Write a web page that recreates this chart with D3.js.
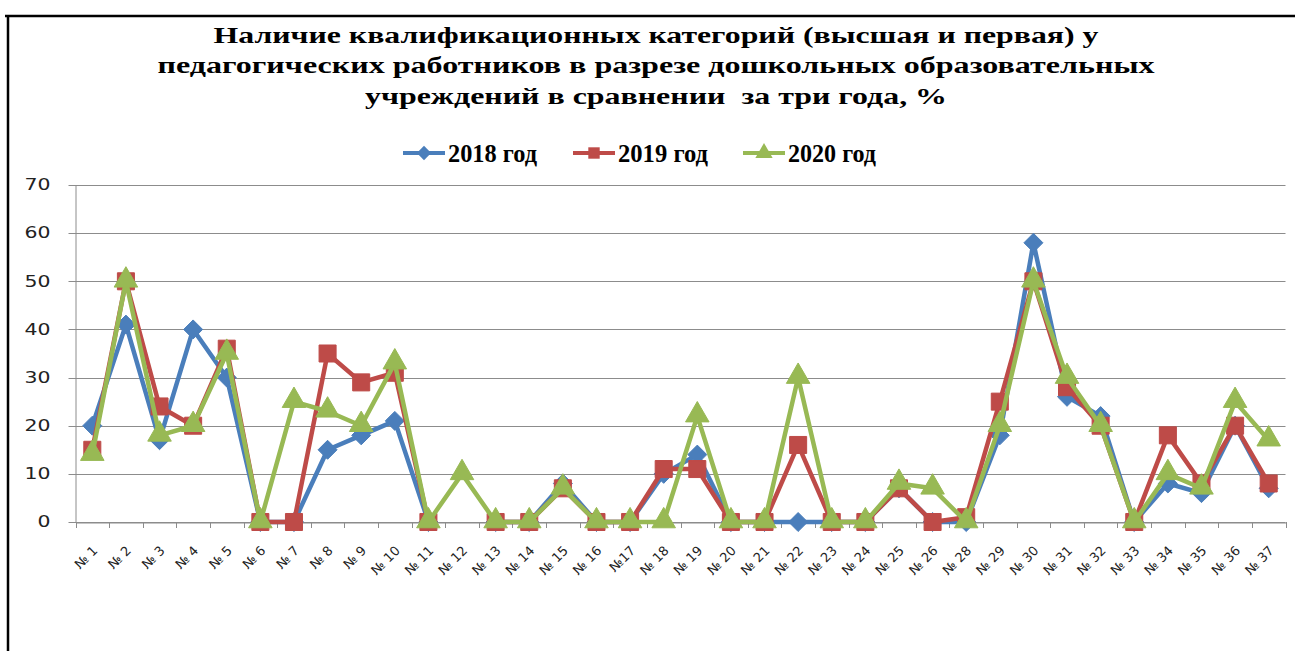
<!DOCTYPE html>
<html><head><meta charset="utf-8">
<script src="https://cdn.jsdelivr.net/npm/d3@7"></script>
<style>html,body{margin:0;padding:0;background:#fff;overflow:hidden}</style>
</head><body>
<svg id="chart" width="1295" height="651"></svg>
<script>
const titleLines = [
  "Наличие квалификационных категорий (высшая и первая) у",
  "педагогических работников в разрезе дошкольных образовательных",
  "учреждений в сравнении  за три года, %"
];
const seriesNames = ["2018 год", "2019 год", "2020 год"];
const categories = ["№ 1","№ 2","№ 3","№ 4","№ 5","№ 6","№ 7","№ 8","№ 9","№ 10","№ 11","№ 12","№ 13","№ 14","№ 15","№ 16","№17","№ 18","№ 19","№ 20","№ 21","№ 22","№ 23","№ 24","№ 25","№ 26","№ 28","№ 29","№ 30","№ 31","№ 32","№ 33","№ 34","№ 35","№ 36","№ 37"];
const values2018 = [20,41,17,40,30,0,0,15,18,21,0,null,0,0,8,0,0,10,14,0,0,0,0,0,7,0,0,18,58,26,22,0,8,6,20,7];
const values2019 = [15,50,24,20,36,0,0,35,29,31,0,null,0,0,7,0,0,11,11,0,0,16,0,0,7,0,1,25,50,28,20,0,18,8,20,8];
const values2020 = [14,50,18,20,35,0,25,23,20,33,0,10,0,0,7,0,0,0,22,0,0,30,0,0,8,7,0,20,50,30,20,0,10,7,25,17];
const yTicks = [0,10,20,30,40,50,60,70];

(function(){
const colors = ["#4A7EBB", "#BE4B48", "#98B954"];
const markers = [d3.symbolDiamond2, d3.symbolSquare, d3.symbolTriangle];
const allSeries = [values2018, values2019, values2020];

const svg = d3.select("#chart");

// frame
svg.append("line").attr("x1",5).attr("x2",1295).attr("y1",16).attr("y2",16).attr("stroke","#000").attr("stroke-width",2.5);
svg.append("line").attr("x1",8).attr("x2",8).attr("y1",15).attr("y2",651).attr("stroke","#000").attr("stroke-width",2.5);

// title
const titleWidths = [885, 997, 582];
const titleBase = [43, 73, 104];
titleLines.forEach((t,i)=>{
  svg.append("text").attr("x",656).attr("y",titleBase[i]).attr("text-anchor","middle")
    .attr("xml:space","preserve")
    .attr("font-family","'Liberation Serif','Times New Roman',serif").attr("font-weight","bold")
    .attr("font-size",23).attr("textLength",titleWidths[i]).attr("lengthAdjust","spacingAndGlyphs")
    .text(t);
});

// scales
const pLeft = 75.5, pRight = 1285.5, pTop = 185, pBottom = 522;
const x = d3.scaleBand().domain(categories).range([pLeft, pRight]);
const y = d3.scaleLinear().domain([0,70]).range([pBottom, pTop]);

// grid
svg.append("g").selectAll("line").data(yTicks).join("line")
  .attr("x1",pLeft-7).attr("x2",pRight).attr("y1",d=>Math.round(y(d))+0.5).attr("y2",d=>Math.round(y(d))+0.5)
  .attr("stroke","#8c8c8c").attr("stroke-width",1);

// y axis
const yAxis = d3.axisLeft(y).tickValues(yTicks).tickSize(0).tickPadding(0);
const gy = svg.append("g").attr("transform",`translate(${pLeft},0)`).call(yAxis);
gy.select(".domain").attr("stroke","#8c8c8c");
gy.selectAll("text").attr("x",-25).attr("font-family","'DejaVu Sans',sans-serif").attr("font-size",15).attr("fill","#222")
  .attr("textLength",d=>String(d).length*13).attr("lengthAdjust","spacingAndGlyphs");

// x axis
const xAxis = d3.axisBottom(x).tickSize(0).tickPadding(0);
const gx = svg.append("g").attr("transform",`translate(0,${Math.round(y(0))+0.5})`).call(xAxis);
gx.select(".domain").attr("stroke","#8c8c8c");
gx.selectAll("text").attr("text-anchor","end").attr("dy",0).attr("y",0)
  .attr("transform","translate(6,29) rotate(-45)")
  .attr("font-family","'DejaVu Sans',sans-serif").attr("font-size",13).attr("fill","#222");
// boundary ticks
const bounds = categories.map(c=>x(c)).concat([pRight]);
svg.append("g").selectAll("line").data(bounds).join("line")
  .attr("x1",d=>Math.round(d)+0.5).attr("x2",d=>Math.round(d)+0.5)
  .attr("y1",pBottom).attr("y2",pBottom+6).attr("stroke","#8c8c8c");

// series
const cx = i => x(categories[i]) + x.bandwidth()/2;
const markerSize = [230, 290, 240];
allSeries.forEach((vals,si)=>{
  const pts = vals.map((v,i)=>({i,v}));
  const line = d3.line().defined(d=>d.v!==null).x(d=>cx(d.i)).y(d=>y(d.v));
  const g = svg.append("g");
  g.append("path").attr("d",line(pts)).attr("fill","none").attr("stroke",colors[si])
    .attr("stroke-width",4.5).attr("stroke-linejoin","round");
  const sym = d3.symbol().type(markers[si]).size(markerSize[si]);
  g.selectAll("path.m").data(pts.filter(d=>d.v!==null)).join("path").attr("class","m")
    .attr("d",sym).attr("transform",d=>`translate(${cx(d.i)},${y(d.v) + (si===2?-1:0)})`)
    .attr("fill",colors[si]).attr("stroke",colors[si]).attr("stroke-width",1);
});

// legend
const legX = [403, 573, 743];
const legTextW = [89, 90, 88];
seriesNames.forEach((n,i)=>{
  const g = svg.append("g");
  g.append("line").attr("x1",legX[i]).attr("x2",legX[i]+42).attr("y1",153).attr("y2",153)
    .attr("stroke",colors[i]).attr("stroke-width",4);
  g.append("path").attr("d",d3.symbol().type(markers[i]).size(130)())
    .attr("transform",`translate(${legX[i]+21},153)`).attr("fill",colors[i]);
  g.append("text").attr("x",legX[i]+45).attr("y",162)
    .attr("font-family","'Liberation Serif','Times New Roman',serif").attr("font-weight","bold")
    .attr("font-size",25).attr("textLength",legTextW[i]).attr("lengthAdjust","spacingAndGlyphs").text(n);
});
})();
</script>
</body></html>
